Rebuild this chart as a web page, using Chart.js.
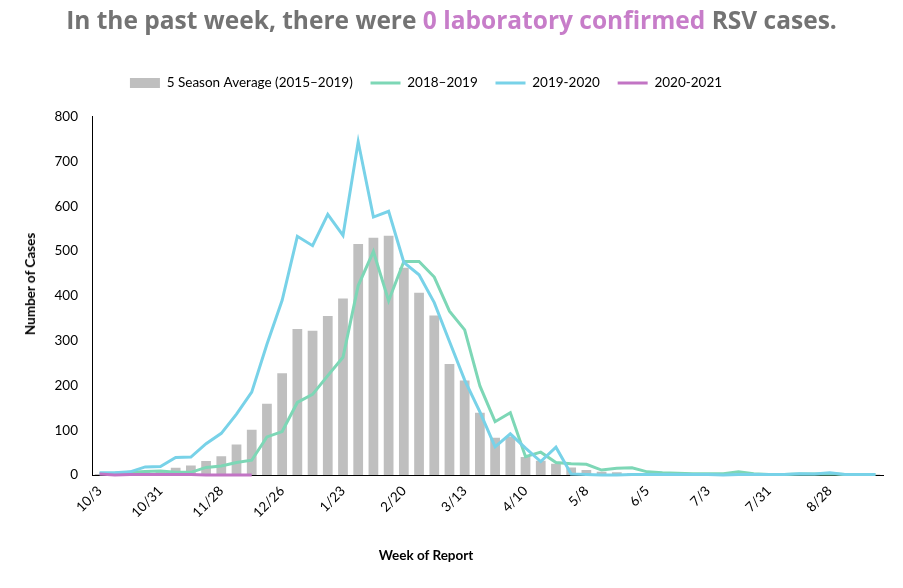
<!DOCTYPE html>
<html><head><meta charset="utf-8">
<script src="https://cdn.jsdelivr.net/npm/chart.js@4.4.1/dist/chart.umd.min.js"></script>
<style>
html,body{margin:0;padding:0;background:#fff;}
#wrap{position:relative;width:903px;height:588px;overflow:hidden;}
#c{position:absolute;left:0;top:0;}
#title{position:absolute;left:0;top:4px;width:903px;text-align:center;font-family:'Open Sans',sans-serif;font-weight:700;font-size:24.5px;color:#737373;white-space:nowrap;line-height:32px;}
#title span{color:#C77DC9;}
.axt{position:absolute;font-family:Lato,sans-serif;font-weight:700;font-size:13.5px;color:#000;white-space:nowrap;transform:translate(-50%,-50%);}
#ytitle{left:30px;top:284px;transform:translate(-50%,-50%) rotate(-90deg);}
#xtitle{left:426px;top:555px;}
</style></head>
<body>
<div id="wrap">
<canvas id="c" width="903" height="588"></canvas>
<div id="title">In the past week, there were <span>0 laboratory confirmed</span> RSV cases.</div>
<div id="ytitle" class="axt">Number of Cases</div>
<div id="xtitle" class="axt">Week of Report</div>
</div>
<script>
// MMWR week numbers of the season (Oct to Sep)
const weeks = [40,41,42,43,44,45,46,47,48,49,50,51,52,1,2,3,4,5,6,7,8,9,10,11,12,13,14,15,16,17,18,19,20,21,22,23,24,25,26,27,28,29,30,31,32,33,34,35,36,37,38,39];
const tickLabels = ['10/3','10/31','11/28','12/26','1/23','2/20','3/13','4/10','5/8','6/5','7/3','7/31','8/28'];
const seriesNames = ['5 Season Average (2015\u20132019)','2018\u20132019','2019-2020','2020-2021'];
const seasonAverage = [2,3,5,8,10,16,21,31,42,68,101,159,227,326,322,355,394,516,530,534,463,407,356,248,211,139,83,86,40,32,25,17,11,7,6,4,3,2,2,1,1,1,1,1,1,1,1,1,1,1,1,1];
const season1819 = [3,4,6,8,9,6,6,17,20,28,33,85,97,162,180,222,263,423,499,389,477,477,442,366,324,199,119,139,41,51,28,25,24,11,15,16,7,5,4,3,3,3,7,3,1,1,2,2,3,1,1,1];
const season1920 = [5,5,7,18,19,39,40,70,93,136,185,292,390,533,512,582,535,744,576,589,475,447,385,298,212,141,63,92,60,30,62,2,1,0,0,1,1,1,1,1,1,0,1,1,1,1,3,2,5,1,1,1];
const season2021 = [2,0,1,1,1,1,1,0,0,0,0];
const colors = ['#BFBFBF','#7DD7B6','#78D2E8','#C274C4'];

const FONT = 'Lato, Carlito, sans-serif';
Chart.defaults.font.family = FONT;
Chart.defaults.color = '#000';

const legendShift = {
  id: 'legendShift',
  afterLayout(chart) {
    const l = chart.legend;
    if (!l) return;
    l.left -= 25.5;
    l.right -= 25.5;
    l.top -= 17;
    l.bottom -= 17;
  }
};

new Chart(document.getElementById('c'), {
  data: {
    labels: weeks,
    datasets: [
      {type:'bar', label: seriesNames[0], data: seasonAverage, backgroundColor: colors[0], barPercentage: 0.64, categoryPercentage: 1, order: 4},
      {type:'line', label: seriesNames[1], data: season1819, borderColor: colors[1], backgroundColor: colors[1], borderWidth: 3, pointRadius: 0, tension: 0, fill: false, clip: false, order: 3},
      {type:'line', label: seriesNames[2], data: season1920, borderColor: colors[2], backgroundColor: colors[2], borderWidth: 3, pointRadius: 0, tension: 0, fill: false, clip: false, order: 2},
      {type:'line', label: seriesNames[3], data: season2021, borderColor: colors[3], backgroundColor: colors[3], borderWidth: 3, pointRadius: 0, tension: 0, fill: false, clip: false, order: 1}
    ]
  },
  options: {
    responsive: false,
    animation: false,
    devicePixelRatio: 1,
    layout: {padding: {top: 75.5, left: 20, right: 20, bottom: 10}},
    plugins: {
      tooltip: {enabled: false},
      title: {display: false},
      legend: {
        position: 'top',
        labels: {
          usePointStyle: true,
          pointStyleWidth: 30,
          boxHeight: 10,
          padding: 17.75,
          color: '#000',
          font: {family: FONT, size: 13.5},
          sort: (a, b) => a.datasetIndex - b.datasetIndex,
          generateLabels(chart) {
            return chart.data.datasets.map((ds, i) => ({
              text: ds.label,
              datasetIndex: i,
              fillStyle: colors[i],
              strokeStyle: colors[i],
              lineWidth: ds.type === 'bar' ? 0 : 3,
              pointStyle: ds.type === 'bar' ? 'rect' : 'line',
              hidden: false,
              fontColor: '#000'
            }));
          }
        }
      }
    },
    scales: {
      x: {
        offset: true,
        grid: {display: false, drawTicks: false},
        border: {display: true, color: '#000', width: 1},
        ticks: {
          autoSkip: false, minRotation: 45, maxRotation: 45, padding: 8,
          color: '#000', font: {family: FONT, size: 13.5},
          callback: (v, i) => (i % 4 === 0 ? tickLabels[i / 4] : '')
        },
        afterFit(s) { s.height = 103; }
      },
      y: {
        min: 0, max: 800,
        grid: {display: false, drawTicks: false},
        border: {display: true, color: '#000', width: 1},
        ticks: {stepSize: 100, padding: 14, color: '#000', font: {family: FONT, size: 13.5}},
        afterFit(s) { s.width = 72; }
      }
    }
  },
  plugins: [legendShift]
});
</script>
</body></html>
